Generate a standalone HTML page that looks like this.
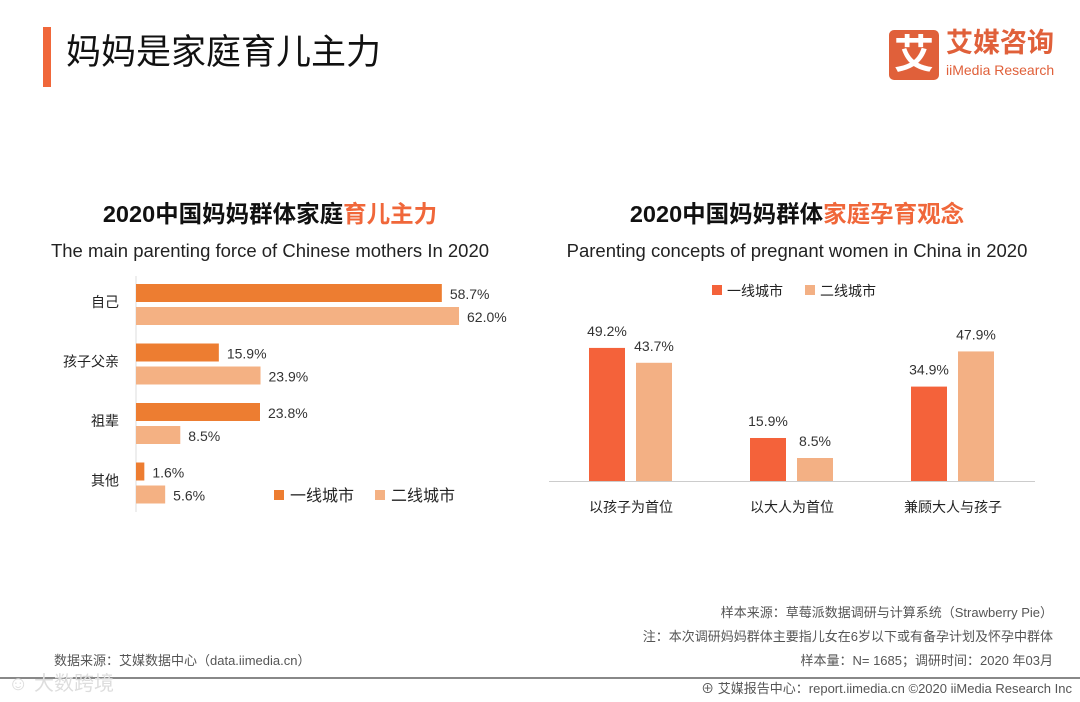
<!DOCTYPE html>
<html><head><meta charset="utf-8"><style>
body{margin:0;width:1080px;height:702px;background:#fff;position:relative;overflow:hidden;font-family:"Liberation Sans","Noto Sans CJK SC",sans-serif;}
.a{position:absolute;white-space:nowrap;}
</style></head><body>
<div class="a" style="left:43px;top:27px;width:8px;height:60px;background:#f0673a"></div>
<div class="a" style="left:66px;top:30px;font-size:35px;color:#111;line-height:46px">妈妈是家庭育儿主力</div>
<div class="a" style="left:889px;top:30px;width:50px;height:50px;background:#e0603a;border-radius:5px;color:#fff;font-size:40px;line-height:50px;text-align:center;font-weight:bold">艾</div>
<div class="a" style="left:946px;top:27px;font-size:27px;font-weight:bold;color:#e0603a;line-height:32px">艾媒咨询</div>
<div class="a" style="left:946px;top:62px;font-size:14px;color:#e0603a;line-height:16px">iiMedia Research</div>

<div class="a" style="left:40px;width:460px;top:199px;text-align:center;font-size:23.5px;font-weight:bold;color:#111;line-height:30px">2020中国妈妈群体家庭<span style="color:#f0673a">育儿主力</span></div>
<div class="a" style="left:40px;width:460px;top:240px;text-align:center;font-size:18.5px;color:#222;line-height:22px">The main parenting force of Chinese mothers In 2020</div>
<div class="a" style="left:567px;width:460px;top:199px;text-align:center;font-size:23.5px;font-weight:bold;color:#111;line-height:30px">2020中国妈妈群体<span style="color:#f0673a">家庭孕育观念</span></div>
<div class="a" style="left:557px;width:480px;top:240px;text-align:center;font-size:18.5px;color:#222;line-height:22px">Parenting concepts of pregnant women in China in 2020</div>

<svg class="a" style="left:0;top:0" width="1080" height="702" id="charts"></svg>

<div class="a" style="right:27px;top:604px;font-size:13px;color:#555;line-height:18px">样本来源：草莓派数据调研与计算系统（Strawberry  Pie）</div>
<div class="a" style="right:27px;top:628px;font-size:13px;color:#555;line-height:18px">注：本次调研妈妈群体主要指儿女在6岁以下或有备孕计划及怀孕中群体</div>
<div class="a" style="right:27px;top:652px;font-size:13px;color:#555;line-height:18px">样本量：N= 1685；调研时间：2020 年03月</div>
<div class="a" style="left:54px;top:652px;font-size:13px;color:#555;line-height:18px">数据来源：艾媒数据中心（data.iimedia.cn）</div>
<div class="a" style="left:0;top:677px;width:1080px;height:2px;background:#888"></div>
<div class="a" style="right:8px;top:680px;font-size:13px;color:#555;line-height:18px">⊕ 艾媒报告中心：report.iimedia.cn  ©2020  iiMedia Research Inc</div>
<div class="a" style="left:8px;top:672px;font-size:20px;color:#ddd;line-height:24px">☺ 大数跨境</div>

<script>
const leftCats=["自己","孩子父亲","祖辈","其他"];
const leftS1=[58.7,15.9,23.8,1.6];
const leftS2=[62.0,23.9,8.5,5.6];
const rightCats=["以孩子为首位","以大人为首位","兼顾大人与孩子"];
const rightS1=[49.2,15.9,34.9];
const rightS2=[43.7,8.5,47.9];
const seriesNames=["一线城市","二线城市"];

const svg=document.getElementById('charts');
const NS='http://www.w3.org/2000/svg';
function mk(t,a,txt){const e=document.createElementNS(NS,t);for(const k in a)e.setAttribute(k,a[k]);if(txt!==undefined)e.textContent=txt;svg.appendChild(e);return e;}
const FONT='"Liberation Sans","Noto Sans CJK SC",sans-serif';
const lx=v=>136+v*5.21;
const ly=i=>284+i*59.5;
let e=mk('line',{x1:136,y1:276,x2:136,y2:512,stroke:'#ddd'});

leftCats.forEach((c,i)=>{
  const y=ly(i);
  let t=mk('text',{x:119,y:y+23,'text-anchor':'end','font-size':14,fill:'#222','font-family':FONT},c);
  
  let b=mk('rect',{x:136,y:y,width:lx(leftS1[i])-136,height:18,fill:'#ed7d31'});
  
  let b2=mk('rect',{x:136,y:y+23,width:lx(leftS2[i])-136,height:18,fill:'#f4b183'});
  
  let l1=mk('text',{x:lx(leftS1[i])+8,y:y+15,'font-size':14,fill:'#333','font-family':FONT},leftS1[i].toFixed(1)+'%');
  
  let l2=mk('text',{x:lx(leftS2[i])+8,y:y+38,'font-size':14,fill:'#333','font-family':FONT},leftS2[i].toFixed(1)+'%');
  
});
[[274,'#ed7d31'],[375,'#f4b183']].forEach((p,k)=>{
  let r=mk('rect',{x:p[0],y:490,width:10,height:10,fill:p[1]});
  
  let t=mk('text',{x:p[0]+16,y:501,'font-size':16,fill:'#222','font-family':FONT},seriesNames[k]);
  
});
const base=481;
const ry=v=>base-v*2.705;
const cx=i=>631+i*161;
e=mk('line',{x1:549,y1:base+0.5,x2:1035,y2:base+0.5,stroke:'#ccc'});

rightCats.forEach((c,i)=>{
  const x=cx(i);
  let b=mk('rect',{x:x-42,y:ry(rightS1[i]),width:36,height:base-ry(rightS1[i]),fill:'#f4623a'});
  
  let b2=mk('rect',{x:x+5,y:ry(rightS2[i]),width:36,height:base-ry(rightS2[i]),fill:'#f3b084'});
  
  let l1=mk('text',{x:x-24,y:ry(rightS1[i])-12,'text-anchor':'middle','font-size':14,fill:'#333','font-family':FONT},rightS1[i].toFixed(1)+'%');
  
  let l2=mk('text',{x:x+23,y:ry(rightS2[i])-12,'text-anchor':'middle','font-size':14,fill:'#333','font-family':FONT},rightS2[i].toFixed(1)+'%');
  
  let t=mk('text',{x:x,y:512,'text-anchor':'middle','font-size':14,fill:'#222','font-family':FONT},c);
  
});
[[712,'#f4623a'],[805,'#f3b084']].forEach((p,k)=>{
  let r=mk('rect',{x:p[0],y:285,width:10,height:10,fill:p[1]});
  
  let t=mk('text',{x:p[0]+15,y:296,'font-size':14,fill:'#222','font-family':FONT},seriesNames[k]);
  
});
</script>
</body></html>
